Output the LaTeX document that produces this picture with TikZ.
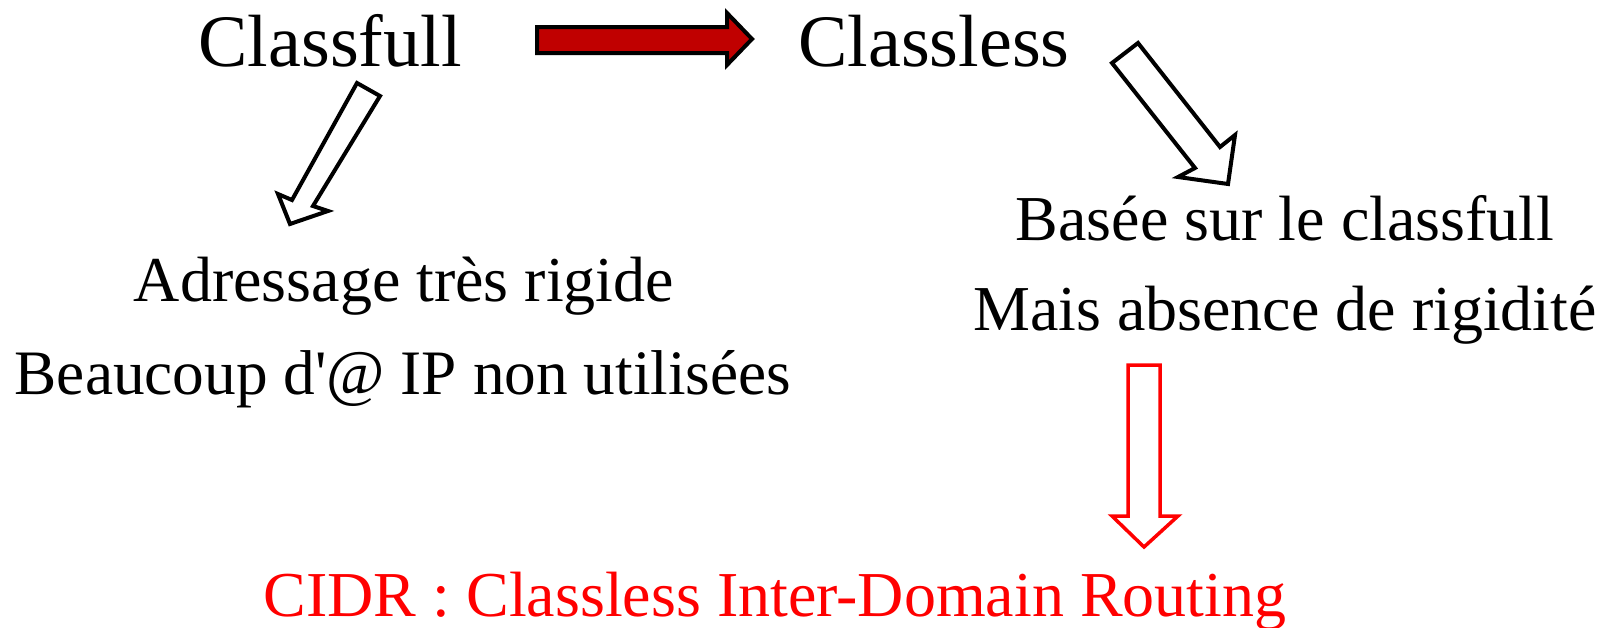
\documentclass[tikz,border=0pt]{standalone}
\usepackage{fontspec}
\setmainfont{Liberation Serif}
\begin{document}
\begin{tikzpicture}[x=1pt,y=-1pt,
  big/.style={font=\fontsize{74}{80}\selectfont, anchor=base, inner sep=0pt},
  mid/.style={font=\fontsize{64}{70}\selectfont, anchor=base, inner sep=0pt},
  blockarrow/.style={draw=black, line width=4pt, fill=white, line join=miter},
  redblock/.style={draw=black, line width=4pt, fill=darkred, line join=miter},
  redoutline/.style={draw=red, line width=3.5pt, fill=white, line join=miter}]
\definecolor{darkred}{HTML}{C00000}
\useasboundingbox (0,0) rectangle (1616,627);
% texts
\node[big] (classfull) at (330,66) {Classfull};
\node[big] (classless) at (934,66) {Classless};
\node[mid] (adr) at (404,301) {Adressage très rigide};
\node[mid, font=\fontsize{63.3}{70}\selectfont] (beau) at (403,394) {Beaucoup d\textquotesingle @ IP non utilisées};
\node[mid] (basee) at (1285,240) {Basée sur le classfull};
\node[mid] (mais) at (1285,330) {Mais absence de rigidité};
\node[mid, text=red] (cidr) at (775,616) {CIDR : Classless Inter-Domain Routing};
% block arrows
\draw[redblock] (537,27) -- (727,27) -- (727,13) -- (752,39) -- (727,65) -- (727,53) -- (537,53) -- cycle;
\draw[blockarrow] (357,83) -- (380,96) -- (313,206) -- (328,211) -- (290,224) -- (278,194) -- (292,200) -- cycle;
\draw[blockarrow] (1112,63) -- (1138,43) -- (1220,147) -- (1235,135) -- (1228,184) -- (1178,177) -- (1195,168) -- cycle;
\draw[redoutline] (1128,365) -- (1160,365) -- (1160,516) -- (1178,516) -- (1144,547) -- (1112,516) -- (1128,516) -- cycle;
\end{tikzpicture}
\end{document}
